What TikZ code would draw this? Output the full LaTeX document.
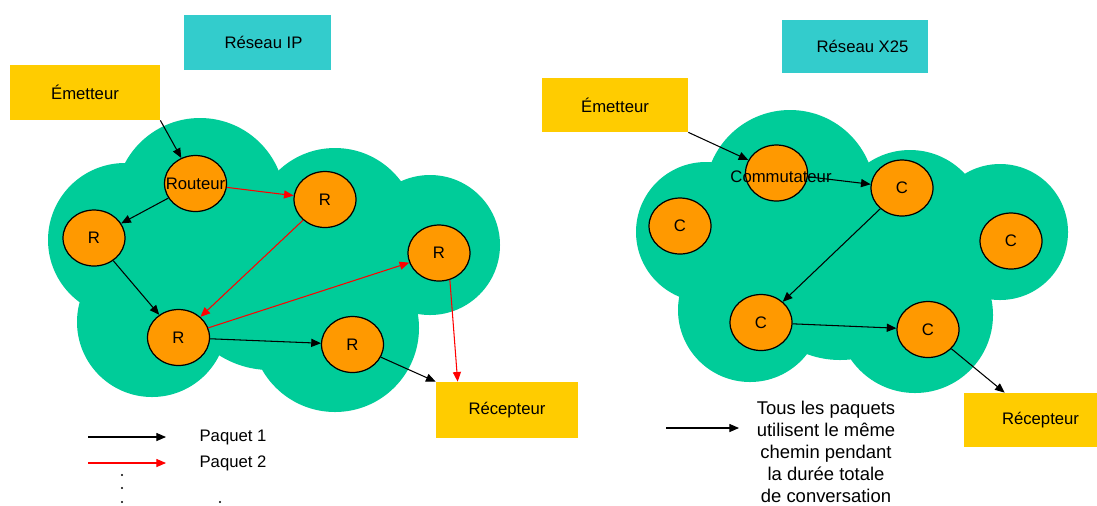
\documentclass[tikz,border=0pt]{standalone}
\usepackage{fontspec}
\setmainfont{Liberation Sans}
\usetikzlibrary{arrows.meta,shapes.geometric,calc}
\definecolor{teal1}{HTML}{33CCCC}
\definecolor{yel1}{HTML}{FFCC00}
\definecolor{green1}{HTML}{00CC99}
\definecolor{orange1}{HTML}{FF9900}
\definecolor{red1}{HTML}{FF0000}
\tikzset{
  titlebox/.style={fill=teal1, draw=none, minimum width=2.95cm, minimum height=1.1cm, inner sep=0pt},
  endbox/.style={fill=yel1, draw=none, minimum height=1.1cm, inner sep=0pt},
  router/.style={ellipse, fill=orange1, draw=black, line width=0.7pt, minimum width=1.24cm, minimum height=1.12cm, inner sep=0pt},
  cloudfill/.style={fill=green1, draw=none},
  pkt/.style={draw=black, line width=0.6pt, -{Triangle[length=5.5pt,width=4.6pt]}},
  pktred/.style={draw=red1, line width=0.6pt, -{Triangle[length=5.5pt,width=4.6pt]}},
  lbl/.style={inner sep=0pt},
  dotmark/.style={fill=black, draw=none}
}
\begin{document}
\begin{tikzpicture}[x=0.02cm, y=-0.02cm, font=\fontsize{9.5}{12.5}\selectfont]
\useasboundingbox[fill=white] (0,0) rectangle (1097,505);
% left cloud
\fill[cloudfill] (200,203) circle (85);
\fill[cloudfill] (335,230) circle (82);
\fill[cloudfill] (430,245) circle (70);
\fill[cloudfill] (125,240) circle (77);
\fill[cloudfill] (152,322) circle (75);
\fill[cloudfill] (335,328) circle (84);
\fill[cloudfill] (270,275) circle (95);
% right cloud
\fill[cloudfill] (790,195) circle (85);
\fill[cloudfill] (910,225) circle (75);
\fill[cloudfill] (1000,232) circle (68);
\fill[cloudfill] (706,232) circle (70);
\fill[cloudfill] (750,310) circle (72);
\fill[cloudfill] (915,315) circle (78);
\fill[cloudfill] (840,265) circle (95);

% titles
\node[titlebox] (t1) at (257.5,42) {\hspace{0.24cm}Réseau IP};
\node[titlebox, minimum width=2.92cm, minimum height=1.06cm] (t2) at (855,46.5) {\hspace{0.3cm}Réseau X25};

% end boxes
\node[endbox, minimum width=3.0cm] (em1) at (85,92.5) {Émetteur};
\node[endbox, minimum width=2.84cm, minimum height=1.12cm] (rec1) at (507,410) {Récepteur};
\node[endbox, minimum width=2.92cm, minimum height=1.08cm] (em2) at (615,105) {Émetteur};
\node[endbox, minimum width=2.66cm, minimum height=1.08cm] (rec2) at (1030.5,420) {\hspace{0.4cm}Récepteur};

% left routers
\node[router] (rout) at (195.5,183.5) {\makebox[0pt]{Routeur}};
\node[router] (rt) at (325,199.5) {R};
\node[router] (rl) at (94,238) {R};
\node[router] (rr) at (439,253) {R};
\node[router] (rbl) at (178.5,337.5) {R};
\node[router] (rbm) at (352.5,344.5) {R};

% right switches
\node[router] (comm) at (776.5,173) {};
\node[router] (ct) at (902,188) {C};
\node[router] (cl) at (680,226) {C};
\node[router] (cr) at (1011,241) {C};
\node[router] (cbl) at (761,322.5) {C};
\node[router] (cbr) at (928,329.5) {C};

\coordinate (rec1t) at ($(rec1.north west)+(22,0)$);
\coordinate (rec2t) at ($(rec2.north west)+(41,0)$);

% left black packets
\draw[pkt] (em1.south east) -- (rout);
\draw[pkt] (rout) -- (rl);
\draw[pkt] (rl) -- (rbl);
\draw[pkt] (rbl) -- (rbm);
\draw[pkt] (rbm) -- (rec1.north west);
% left red packets
\draw[pktred] (rout) -- (rt);
\draw[pktred] (rt) -- (rbl);
\draw[pktred] (rbl) -- (rr);
\draw[pktred] (rr.-68) -- (rec1t);

% right packets
\draw[pkt] (em2.south east) -- (comm);
\node[lbl] (commlbl) at (781,177) {Commutateur};
\draw[pkt] (comm) -- (ct);
\draw[pkt] (ct) -- (cbl);
\draw[pkt] (cbl) -- (cbr);
\draw[pkt] (cbr) -- (rec2t);

% legend left
\coordinate (l1a) at (88,437);
\coordinate (l1b) at (166,437);
\coordinate (l2a) at (88,463);
\coordinate (l2b) at (166,463);
\draw[pkt] (l1a) -- (l1b);
\draw[pktred] (l2a) -- (l2b);
\node[lbl] (p1) at (233,437) {Paquet 1};
\node[lbl] (p2) at (233,463) {Paquet 2};
\fill[dotmark] (122,475) circle (1.1);
\fill[dotmark] (122,488) circle (1.1);
\fill[dotmark] (122,502) circle (1.1);
\fill[dotmark] (220,502) circle (1.1);

% legend right
\coordinate (l3a) at (666,428);
\coordinate (l3b) at (739,428);
\draw[pkt] (l3a) -- (l3b);
\node[lbl, align=center, font=\fontsize{10.5}{12.5}\selectfont] (note) at (826,452) {Tous les paquets\\utilisent le même\\chemin pendant\\la durée totale\\de conversation};
\end{tikzpicture}
\end{document}
